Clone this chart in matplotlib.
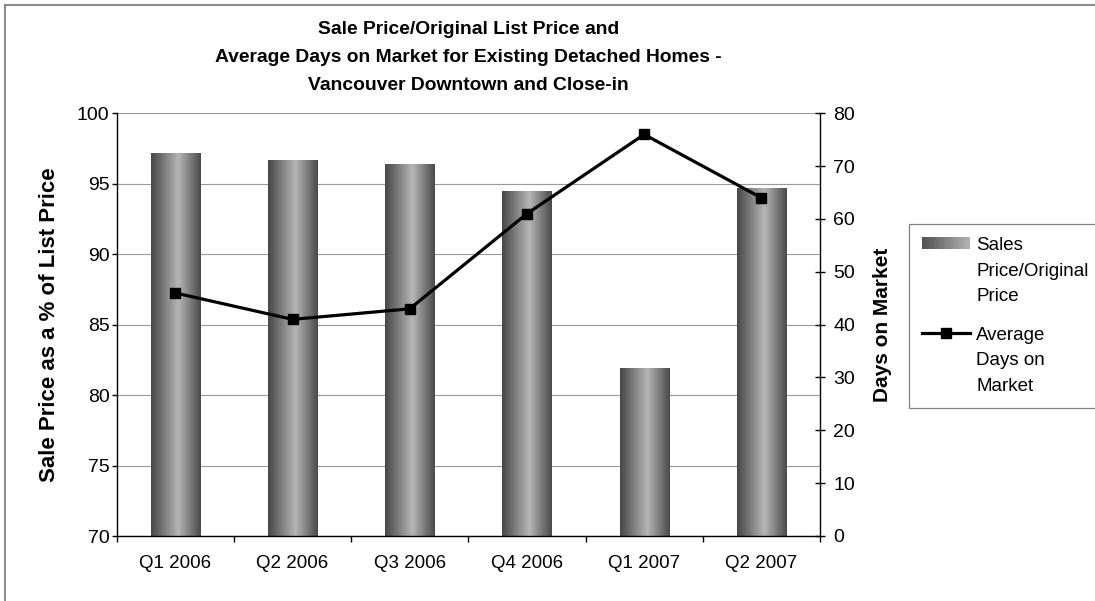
import numpy as np
import matplotlib
matplotlib.use('Agg')
import matplotlib.pyplot as plt
from matplotlib.patches import Rectangle
from matplotlib.lines import Line2D
from matplotlib.legend_handler import HandlerBase
from matplotlib.colors import LinearSegmentedColormap

# data
quarters = ['Q1 2006', 'Q2 2006', 'Q3 2006', 'Q4 2006', 'Q1 2007', 'Q2 2007']
sale_pct = [97.2, 96.7, 96.4, 94.5, 81.9, 94.7]   # left axis, bars
avg_days = [46, 41, 43, 61, 76, 64]                # right axis, line
left_ticks = [70, 75, 80, 85, 90, 95, 100]
right_ticks = [0, 10, 20, 30, 40, 50, 60, 70, 80]

title = ('Sale Price/Original List Price and\n'
         'Average Days on Market for Existing Detached Homes -\n'
         'Vancouver Downtown and Close-in')

plt.rcParams['font.family'] = ['Liberation Sans', 'DejaVu Sans']

W, H = 1095, 601
fig = plt.figure(figsize=(W / 100, H / 100), dpi=100)
ax = fig.add_axes([116.7 / W, 1 - 536 / H, (820 - 116.7) / W, (536 - 113.3) / H])

# cylinder-ish grey shading of the bars
bar_cmap = LinearSegmentedColormap.from_list(
    'bar', [(0, '#474747'), (0.55, '#b6b6b6'), (1, '#4a4a4a')])
grad = np.linspace(0, 1, 128).reshape(1, -1)

ybase = left_ticks[0]
x = np.arange(len(quarters))
bars = ax.bar(x, np.array(sale_pct) - ybase, bottom=ybase, width=0.42,
              color='none', edgecolor='none', zorder=2)
for b in bars:
    im = ax.imshow(grad, cmap=bar_cmap, aspect='auto', zorder=2,
                   extent=[b.get_x(), b.get_x() + b.get_width(), b.get_y(), b.get_y() + b.get_height()])
    im.set_clip_path(b)

ax.set_xlim(-0.5, len(quarters) - 0.5)
ax.set_ylim(70, 100)
ax.set_yticks(left_ticks)
ax.set_xticks(x)
ax.set_xticklabels(quarters)
ax.set_xticks(np.arange(len(quarters) + 1) - 0.5, minor=True)
ax.tick_params(axis='x', which='major', length=0, pad=14, labelsize=13.5)
ax.tick_params(axis='x', which='minor', length=4.5, width=1, direction='out')
ax.tick_params(axis='y', length=3.6, width=1, pad=1.5, labelsize=14)
ax.grid(axis='y', color='#9a9a9a', lw=0.8)
ax.set_axisbelow(True)
ax.spines['top'].set_visible(False)
ax.spines['right'].set_visible(False)
for s in ['left', 'bottom']:
    ax.spines[s].set_linewidth(1.0)
ax.set_ylabel('Sale Price as a % of List Price', fontsize=16, fontweight='bold', labelpad=12)
ax.set_title(title, fontsize=13.9, fontweight='bold', linespacing=1.85, pad=17)

ax2 = ax.twinx()
ax2.plot(x, avg_days, color='black', lw=2.3, marker='s', ms=7.7, zorder=5)
ax2.set_ylim(0, 80)
ax2.set_yticks(right_ticks)
ax2.tick_params(axis='y', direction='inout', length=7.2, width=1, pad=6, labelsize=14)
for s in ['top', 'left', 'bottom']:
    ax2.spines[s].set_visible(False)
ax2.spines['right'].set_linewidth(1.0)
ax2.set_ylabel('Days on Market', fontsize=15, fontweight='bold', labelpad=13)


class GradientHandler(HandlerBase):
    def create_artists(self, legend, orig_handle, xdescent, ydescent,
                       width, height, fontsize, trans):
        n = 40
        out = []
        for i in range(n):
            c = bar_cmap(0.05 + 0.5 * i / n)
            r = Rectangle((-xdescent + i * width / n, -ydescent), width / n + 0.2, height,
                          facecolor=c, edgecolor='none', transform=trans)
            out.append(r)
        return out


bar_proxy = Rectangle((0, 0), 1, 1)
line_proxy = Line2D([], [], color='black', lw=2.3, marker='s', ms=7.7)
leg = fig.legend([bar_proxy, line_proxy],
                 ['Sales\nPrice/Original\nPrice', 'Average\nDays on\nMarket'],
                 handler_map={bar_proxy: GradientHandler()},
                 loc='upper left', mode='expand',
                 bbox_to_anchor=(909 / W, 1 - 407 / H, 200 / W, 183 / H),
                 fontsize=13.5, handlelength=2.56, handleheight=0.6, handletextpad=0.33,
                 borderpad=0.7, labelspacing=1.14, borderaxespad=0,
                 fancybox=False, framealpha=1, edgecolor='#808080')
leg.get_frame().set_linewidth(0.9)
for t in leg.get_texts():
    t.set_linespacing(1.66)
# put the handle next to the first line of each label
for col in leg._legend_handle_box.get_children():
    for hp in col.get_children():
        hp.align = 'top'

# outer chart border (runs off the right and bottom edge)
fig.patches.append(Rectangle((5 / W, -0.1), 1.2, 1.1 - 5 / H, transform=fig.transFigure,
                             fill=False, edgecolor='#8c8c8c', lw=1.5))

fig.savefig('out.png', dpi=100)
